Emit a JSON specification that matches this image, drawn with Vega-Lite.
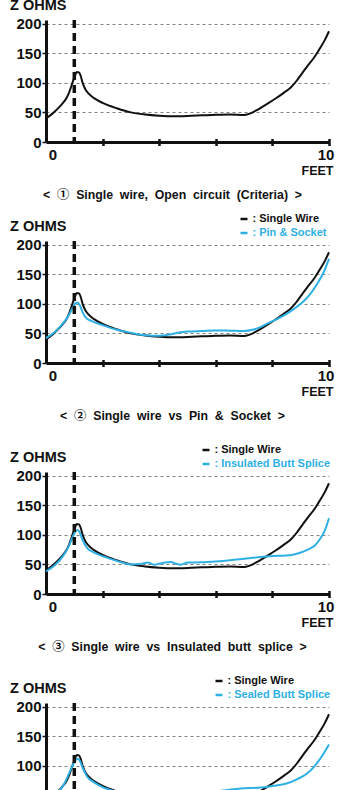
{
  "$schema": "https://vega.github.io/schema/vega-lite/v6.json",
  "padding": {"left": 9, "top": -3, "right": 5, "bottom": 0},
  "background": "white",
  "datasets": {
    "curves": [
      {"series": "Single Wire", "ft": 0.0, "z": 40},
      {"series": "Single Wire", "ft": 0.15, "z": 45},
      {"series": "Single Wire", "ft": 0.3, "z": 51},
      {"series": "Single Wire", "ft": 0.45, "z": 58},
      {"series": "Single Wire", "ft": 0.6, "z": 66},
      {"series": "Single Wire", "ft": 0.72, "z": 74},
      {"series": "Single Wire", "ft": 0.82, "z": 84},
      {"series": "Single Wire", "ft": 0.9, "z": 95},
      {"series": "Single Wire", "ft": 0.97, "z": 105},
      {"series": "Single Wire", "ft": 1.03, "z": 113},
      {"series": "Single Wire", "ft": 1.08, "z": 118},
      {"series": "Single Wire", "ft": 1.17, "z": 117.5},
      {"series": "Single Wire", "ft": 1.23, "z": 111},
      {"series": "Single Wire", "ft": 1.3, "z": 99},
      {"series": "Single Wire", "ft": 1.38, "z": 90},
      {"series": "Single Wire", "ft": 1.5, "z": 82},
      {"series": "Single Wire", "ft": 1.7, "z": 74},
      {"series": "Single Wire", "ft": 2.0, "z": 66},
      {"series": "Single Wire", "ft": 2.5, "z": 57},
      {"series": "Single Wire", "ft": 3.0, "z": 50},
      {"series": "Single Wire", "ft": 3.5, "z": 46.5},
      {"series": "Single Wire", "ft": 4.0, "z": 44.5},
      {"series": "Single Wire", "ft": 4.5, "z": 43.5},
      {"series": "Single Wire", "ft": 5.0, "z": 44},
      {"series": "Single Wire", "ft": 5.5, "z": 45},
      {"series": "Single Wire", "ft": 6.0, "z": 46},
      {"series": "Single Wire", "ft": 6.5, "z": 46.5},
      {"series": "Single Wire", "ft": 7.0, "z": 45.5},
      {"series": "Single Wire", "ft": 7.2, "z": 48},
      {"series": "Single Wire", "ft": 7.5, "z": 55},
      {"series": "Single Wire", "ft": 7.8, "z": 64},
      {"series": "Single Wire", "ft": 8.1, "z": 73},
      {"series": "Single Wire", "ft": 8.4, "z": 83},
      {"series": "Single Wire", "ft": 8.65, "z": 92},
      {"series": "Single Wire", "ft": 8.85, "z": 103},
      {"series": "Single Wire", "ft": 9.05, "z": 116},
      {"series": "Single Wire", "ft": 9.25, "z": 129},
      {"series": "Single Wire", "ft": 9.45, "z": 141},
      {"series": "Single Wire", "ft": 9.65, "z": 156},
      {"series": "Single Wire", "ft": 9.85, "z": 172},
      {"series": "Single Wire", "ft": 10.0, "z": 187},

      {"series": "Pin & Socket", "ft": 0.0, "z": 42},
      {"series": "Pin & Socket", "ft": 0.3, "z": 52},
      {"series": "Pin & Socket", "ft": 0.6, "z": 67},
      {"series": "Pin & Socket", "ft": 0.8, "z": 80},
      {"series": "Pin & Socket", "ft": 0.95, "z": 94},
      {"series": "Pin & Socket", "ft": 1.05, "z": 101},
      {"series": "Pin & Socket", "ft": 1.12, "z": 102},
      {"series": "Pin & Socket", "ft": 1.2, "z": 97},
      {"series": "Pin & Socket", "ft": 1.3, "z": 85},
      {"series": "Pin & Socket", "ft": 1.4, "z": 77},
      {"series": "Pin & Socket", "ft": 1.6, "z": 71},
      {"series": "Pin & Socket", "ft": 2.0, "z": 64},
      {"series": "Pin & Socket", "ft": 2.5, "z": 56},
      {"series": "Pin & Socket", "ft": 3.0, "z": 51},
      {"series": "Pin & Socket", "ft": 3.5, "z": 47},
      {"series": "Pin & Socket", "ft": 4.0, "z": 46},
      {"series": "Pin & Socket", "ft": 4.3, "z": 47.5},
      {"series": "Pin & Socket", "ft": 4.7, "z": 51.5},
      {"series": "Pin & Socket", "ft": 5.0, "z": 53},
      {"series": "Pin & Socket", "ft": 5.5, "z": 54},
      {"series": "Pin & Socket", "ft": 6.0, "z": 55},
      {"series": "Pin & Socket", "ft": 6.5, "z": 54.5},
      {"series": "Pin & Socket", "ft": 7.0, "z": 54},
      {"series": "Pin & Socket", "ft": 7.3, "z": 56},
      {"series": "Pin & Socket", "ft": 7.6, "z": 61},
      {"series": "Pin & Socket", "ft": 7.8, "z": 66},
      {"series": "Pin & Socket", "ft": 8.2, "z": 75},
      {"series": "Pin & Socket", "ft": 8.6, "z": 86},
      {"series": "Pin & Socket", "ft": 9.0, "z": 100},
      {"series": "Pin & Socket", "ft": 9.3, "z": 114},
      {"series": "Pin & Socket", "ft": 9.6, "z": 135},
      {"series": "Pin & Socket", "ft": 9.8, "z": 152},
      {"series": "Pin & Socket", "ft": 10.0, "z": 176},

      {"series": "Insulated Butt Splice", "ft": 0.0, "z": 38},
      {"series": "Insulated Butt Splice", "ft": 0.3, "z": 48},
      {"series": "Insulated Butt Splice", "ft": 0.6, "z": 64},
      {"series": "Insulated Butt Splice", "ft": 0.8, "z": 80},
      {"series": "Insulated Butt Splice", "ft": 0.95, "z": 97},
      {"series": "Insulated Butt Splice", "ft": 1.05, "z": 106},
      {"series": "Insulated Butt Splice", "ft": 1.12, "z": 108},
      {"series": "Insulated Butt Splice", "ft": 1.2, "z": 103},
      {"series": "Insulated Butt Splice", "ft": 1.3, "z": 90},
      {"series": "Insulated Butt Splice", "ft": 1.45, "z": 78},
      {"series": "Insulated Butt Splice", "ft": 1.7, "z": 70},
      {"series": "Insulated Butt Splice", "ft": 2.0, "z": 64},
      {"series": "Insulated Butt Splice", "ft": 2.5, "z": 56},
      {"series": "Insulated Butt Splice", "ft": 3.0, "z": 50},
      {"series": "Insulated Butt Splice", "ft": 3.3, "z": 50.5},
      {"series": "Insulated Butt Splice", "ft": 3.6, "z": 53},
      {"series": "Insulated Butt Splice", "ft": 3.82, "z": 49.5},
      {"series": "Insulated Butt Splice", "ft": 4.0, "z": 51},
      {"series": "Insulated Butt Splice", "ft": 4.2, "z": 53},
      {"series": "Insulated Butt Splice", "ft": 4.4, "z": 54},
      {"series": "Insulated Butt Splice", "ft": 4.6, "z": 51},
      {"series": "Insulated Butt Splice", "ft": 4.76, "z": 49.5},
      {"series": "Insulated Butt Splice", "ft": 5.0, "z": 53},
      {"series": "Insulated Butt Splice", "ft": 5.5, "z": 53.5},
      {"series": "Insulated Butt Splice", "ft": 6.0, "z": 55},
      {"series": "Insulated Butt Splice", "ft": 6.5, "z": 57},
      {"series": "Insulated Butt Splice", "ft": 7.0, "z": 59.5},
      {"series": "Insulated Butt Splice", "ft": 7.5, "z": 62},
      {"series": "Insulated Butt Splice", "ft": 8.0, "z": 64},
      {"series": "Insulated Butt Splice", "ft": 8.5, "z": 65},
      {"series": "Insulated Butt Splice", "ft": 8.8, "z": 67},
      {"series": "Insulated Butt Splice", "ft": 9.0, "z": 70},
      {"series": "Insulated Butt Splice", "ft": 9.25, "z": 75},
      {"series": "Insulated Butt Splice", "ft": 9.5, "z": 82},
      {"series": "Insulated Butt Splice", "ft": 9.7, "z": 94},
      {"series": "Insulated Butt Splice", "ft": 9.85, "z": 107},
      {"series": "Insulated Butt Splice", "ft": 10.0, "z": 128},

      {"series": "Sealed Butt Splice", "ft": 0.0, "z": 40},
      {"series": "Sealed Butt Splice", "ft": 0.3, "z": 50},
      {"series": "Sealed Butt Splice", "ft": 0.6, "z": 66},
      {"series": "Sealed Butt Splice", "ft": 0.9, "z": 96},
      {"series": "Sealed Butt Splice", "ft": 1.05, "z": 110},
      {"series": "Sealed Butt Splice", "ft": 1.12, "z": 112},
      {"series": "Sealed Butt Splice", "ft": 1.2, "z": 108},
      {"series": "Sealed Butt Splice", "ft": 1.3, "z": 96},
      {"series": "Sealed Butt Splice", "ft": 1.45, "z": 82},
      {"series": "Sealed Butt Splice", "ft": 1.7, "z": 72},
      {"series": "Sealed Butt Splice", "ft": 2.0, "z": 64},
      {"series": "Sealed Butt Splice", "ft": 2.5, "z": 56},
      {"series": "Sealed Butt Splice", "ft": 3.0, "z": 50},
      {"series": "Sealed Butt Splice", "ft": 4.0, "z": 49},
      {"series": "Sealed Butt Splice", "ft": 5.0, "z": 52},
      {"series": "Sealed Butt Splice", "ft": 6.0, "z": 57},
      {"series": "Sealed Butt Splice", "ft": 7.0, "z": 62},
      {"series": "Sealed Butt Splice", "ft": 7.5, "z": 63},
      {"series": "Sealed Butt Splice", "ft": 8.0, "z": 66},
      {"series": "Sealed Butt Splice", "ft": 8.5, "z": 70},
      {"series": "Sealed Butt Splice", "ft": 8.9, "z": 78},
      {"series": "Sealed Butt Splice", "ft": 9.2, "z": 86},
      {"series": "Sealed Butt Splice", "ft": 9.5, "z": 100},
      {"series": "Sealed Butt Splice", "ft": 9.8, "z": 120},
      {"series": "Sealed Butt Splice", "ft": 10.0, "z": 136}
    ]
  },
  "config": {
    "view": {"stroke": null},
    "font": "Liberation Sans, Noto Sans CJK KR",
    "axis": {
      "labelFont": "Liberation Sans, Noto Sans CJK KR",
      "labelFontWeight": "bold",
      "labelFontSize": 15,
      "labelColor": "#111111",
      "titleFont": "Liberation Sans, Noto Sans CJK KR",
      "titleFontWeight": "bold",
      "titleColor": "#111111"
    },
    "title": {
      "font": "Liberation Sans, Noto Sans CJK KR",
      "fontWeight": "bold",
      "fontSize": 12.3,
      "color": "#111111",
      "orient": "bottom",
      "anchor": "middle",
      "offset": 12,
      "dx": -15
    },
    "legend": {
      "orient": "none",
      "title": null,
      "padding": 0,
      "labelFont": "Liberation Sans, Noto Sans CJK KR",
      "labelFontWeight": "bold",
      "labelFontSize": 11,
      "labelOffset": 3,
      "rowPadding": 2
    }
  },
  "spacing": 12,
  "resolve": {"scale": {"x": "independent", "y": "independent", "color": "independent"}, "legend": {"color": "independent"}},
  "vconcat": [
    {
      "width": 283,
      "height": 122,
      "title": "<\u00a0\u00a0①\u00a0\u00a0Single\u00a0\u00a0wire,\u00a0\u00a0Open\u00a0\u00a0circuit\u00a0\u00a0(Criteria)\u00a0\u00a0>",
      "layer": [
        {
          "data": {"name": "curves"},
          "transform": [{"filter": {"field": "series", "oneOf": ["Single Wire"]}}],
          "mark": {"type": "line", "strokeWidth": 2, "interpolate": "monotone"},
          "encoding": {
            "x": {"field": "ft", "type": "quantitative", "scale": {"domain": [0, 10], "nice": false},
              "axis": {"values": [0,1,2,3,4,5,6,7,8,9,10], "domain": false, "offset": -3.5,
                "tickSize": 7, "tickWidth": 2.5,
                "tickColor": {"condition": {"test": "datum.value == 0", "value": "transparent"}, "value": "#111111"},
                "labelExpr": "datum.value % 5 == 0 ? datum.label : ''", "labelFlush": false, "labelPadding": 2,
                "labelOffset": {"condition": [{"test": "datum.value == 0", "value": 6.5}, {"test": "datum.value == 10", "value": -3.5}], "value": 0},
                "grid": true, "gridDash": [3, 3], "gridColor": "#808080", "gridWidth": 1,
                "gridOpacity": {"condition": {"test": "datum.value == 3 || datum.value == 5 || datum.value == 7", "value": 1}, "value": 0},
                "title": "FEET", "titleFontSize": 12.5, "titleAlign": "right", "titleBaseline": "middle", "titleX": 287, "titleY": 31.5}},
            "y": {"field": "z", "type": "quantitative", "scale": {"domain": [0, 206], "nice": false},
              "axis": {"values": [0, 50, 100, 150, 200], "domainColor": "#111111", "domainWidth": 3,
                "tickSize": 4, "tickWidth": 1.5, "tickColor": "#111111",
                "labelPadding": 1,
                "grid": true,
                "gridColor": {"condition": {"test": "datum.value == 0", "value": "#111111"}, "value": "#808080"},
                "gridWidth": {"condition": {"test": "datum.value == 0", "value": 3}, "value": 1},
                "gridDash": {"condition": {"test": "datum.value == 0", "value": []}, "value": [3, 3]},
                "title": "Z OHMS", "titleFontSize": 14.5, "titleAngle": 0, "titleAlign": "left", "titleBaseline": "middle", "titleX": -36.5, "titleY": -14.5}},
            "color": {"field": "series", "type": "nominal", "scale": {"domain": ["Single Wire"], "range": ["#111111"]}, "legend": null}
          }
        },
        {
          "data": {"values": [{"ft": 1}]},
          "mark": {"type": "rule", "strokeWidth": 3.5, "strokeDash": [8, 5], "color": "#111111"},
          "encoding": {"x": {"field": "ft", "type": "quantitative"}}
        }
      ]
    },
    {
      "spacing": 22,
      "resolve": {"scale": {"x": "independent", "y": "independent", "color": "independent"}, "legend": {"color": "independent"}},
      "vconcat": [
        {
          "width": 283,
          "height": 122,
          "title": "<\u00a0\u00a0②\u00a0\u00a0Single\u00a0\u00a0wire\u00a0\u00a0vs\u00a0\u00a0Pin\u00a0\u00a0&\u00a0\u00a0Socket\u00a0\u00a0>",
          "layer": [
            {
              "data": {"name": "curves"},
              "transform": [{"filter": {"field": "series", "oneOf": ["Single Wire", "Pin & Socket"]}}],
              "mark": {"type": "line", "strokeWidth": 2, "interpolate": "monotone"},
              "encoding": {
                "x": {"field": "ft", "type": "quantitative", "scale": {"domain": [0, 10], "nice": false},
                  "axis": {"values": [0,1,2,3,4,5,6,7,8,9,10], "domain": false, "offset": -3.5,
                    "tickSize": 7, "tickWidth": 2.5,
                    "tickColor": {"condition": {"test": "datum.value == 0", "value": "transparent"}, "value": "#111111"},
                    "labelExpr": "datum.value % 5 == 0 ? datum.label : ''", "labelFlush": false, "labelPadding": 2,
                    "labelOffset": {"condition": [{"test": "datum.value == 0", "value": 6.5}, {"test": "datum.value == 10", "value": -3.5}], "value": 0},
                    "grid": true, "gridDash": [3, 3], "gridColor": "#808080", "gridWidth": 1,
                    "gridOpacity": {"condition": {"test": "datum.value == 3 || datum.value == 5 || datum.value == 7", "value": 1}, "value": 0},
                    "title": "FEET", "titleFontSize": 12.5, "titleAlign": "right", "titleBaseline": "middle", "titleX": 287, "titleY": 31.5}},
                "y": {"field": "z", "type": "quantitative", "scale": {"domain": [0, 206], "nice": false},
                  "axis": {"values": [0, 50, 100, 150, 200], "domainColor": "#111111", "domainWidth": 3,
                    "tickSize": 4, "tickWidth": 1.5, "tickColor": "#111111",
                    "labelPadding": 1,
                    "grid": true,
                    "gridColor": {"condition": {"test": "datum.value == 0", "value": "#111111"}, "value": "#808080"},
                    "gridWidth": {"condition": {"test": "datum.value == 0", "value": 3}, "value": 1},
                    "gridDash": {"condition": {"test": "datum.value == 0", "value": []}, "value": [3, 3]},
                    "title": "Z OHMS", "titleFontSize": 14.5, "titleAngle": 0, "titleAlign": "left", "titleBaseline": "middle", "titleX": -36.5, "titleY": -14.5}},
                "color": {"field": "series", "type": "nominal", "scale": {"domain": ["Single Wire", "Pin & Socket"], "range": ["#111111", "#2fb0e4"]},
                  "legend": {"legendX": 192.5, "legendY": -27.5, "labelExpr": "': ' + datum.label",
                    "encode": {
                      "symbols": {"update": {"shape": {"value": "M-1,0H1"}, "size": {"value": 49}, "strokeWidth": {"value": 2.5}, "angle": {"value": 0}}},
                      "labels": {"update": {"fill": {"signal": "datum.value == 'Single Wire' ? '#111111' : '#2fb0e4'"}}}}}}
              }
            },
            {
              "data": {"values": [{"ft": 1}]},
              "mark": {"type": "rule", "strokeWidth": 3.5, "strokeDash": [8, 5], "color": "#111111"},
              "encoding": {"x": {"field": "ft", "type": "quantitative"}}
            }
          ]
        },
        {
          "width": 283,
          "height": 122,
          "title": "<\u00a0\u00a0③\u00a0\u00a0Single\u00a0\u00a0wire\u00a0\u00a0vs\u00a0\u00a0Insulated\u00a0\u00a0butt\u00a0\u00a0splice\u00a0\u00a0>",
          "layer": [
            {
              "data": {"name": "curves"},
              "transform": [{"filter": {"field": "series", "oneOf": ["Single Wire", "Insulated Butt Splice"]}}],
              "mark": {"type": "line", "strokeWidth": 2, "interpolate": "monotone"},
              "encoding": {
                "x": {"field": "ft", "type": "quantitative", "scale": {"domain": [0, 10], "nice": false},
                  "axis": {"values": [0,1,2,3,4,5,6,7,8,9,10], "domain": false, "offset": -3.5,
                    "tickSize": 7, "tickWidth": 2.5,
                    "tickColor": {"condition": {"test": "datum.value == 0", "value": "transparent"}, "value": "#111111"},
                    "labelExpr": "datum.value % 5 == 0 ? datum.label : ''", "labelFlush": false, "labelPadding": 2,
                    "labelOffset": {"condition": [{"test": "datum.value == 0", "value": 6.5}, {"test": "datum.value == 10", "value": -3.5}], "value": 0},
                    "grid": true, "gridDash": [3, 3], "gridColor": "#808080", "gridWidth": 1,
                    "gridOpacity": {"condition": {"test": "datum.value == 3 || datum.value == 5 || datum.value == 7", "value": 1}, "value": 0},
                    "title": "FEET", "titleFontSize": 12.5, "titleAlign": "right", "titleBaseline": "middle", "titleX": 287, "titleY": 31.5}},
                "y": {"field": "z", "type": "quantitative", "scale": {"domain": [0, 206], "nice": false},
                  "axis": {"values": [0, 50, 100, 150, 200], "domainColor": "#111111", "domainWidth": 3,
                    "tickSize": 4, "tickWidth": 1.5, "tickColor": "#111111",
                    "labelPadding": 1,
                    "grid": true,
                    "gridColor": {"condition": {"test": "datum.value == 0", "value": "#111111"}, "value": "#808080"},
                    "gridWidth": {"condition": {"test": "datum.value == 0", "value": 3}, "value": 1},
                    "gridDash": {"condition": {"test": "datum.value == 0", "value": []}, "value": [3, 3]},
                    "title": "Z OHMS", "titleFontSize": 14.5, "titleAngle": 0, "titleAlign": "left", "titleBaseline": "middle", "titleX": -36.5, "titleY": -14.5}},
                "color": {"field": "series", "type": "nominal", "scale": {"domain": ["Single Wire", "Insulated Butt Splice"], "range": ["#111111", "#2fb0e4"]},
                  "legend": {"legendX": 154.5, "legendY": -27.5, "labelExpr": "': ' + datum.label",
                    "encode": {
                      "symbols": {"update": {"shape": {"value": "M-1,0H1"}, "size": {"value": 49}, "strokeWidth": {"value": 2.5}, "angle": {"value": 0}}},
                      "labels": {"update": {"fill": {"signal": "datum.value == 'Single Wire' ? '#111111' : '#2fb0e4'"}}}}}}
              }
            },
            {
              "data": {"values": [{"ft": 1}]},
              "mark": {"type": "rule", "strokeWidth": 3.5, "strokeDash": [8, 5], "color": "#111111"},
              "encoding": {"x": {"field": "ft", "type": "quantitative"}}
            }
          ]
        },
        {
          "width": 283,
          "height": 122,
          "title": "<\u00a0\u00a0④\u00a0\u00a0Single\u00a0\u00a0wire\u00a0\u00a0vs\u00a0\u00a0Sealed\u00a0\u00a0butt\u00a0\u00a0splice\u00a0\u00a0>",
          "layer": [
            {
              "data": {"name": "curves"},
              "transform": [{"filter": {"field": "series", "oneOf": ["Single Wire", "Sealed Butt Splice"]}}],
              "mark": {"type": "line", "strokeWidth": 2, "interpolate": "monotone"},
              "encoding": {
                "x": {"field": "ft", "type": "quantitative", "scale": {"domain": [0, 10], "nice": false},
                  "axis": {"values": [0,1,2,3,4,5,6,7,8,9,10], "domain": false, "offset": -3.5,
                    "tickSize": 7, "tickWidth": 2.5,
                    "tickColor": {"condition": {"test": "datum.value == 0", "value": "transparent"}, "value": "#111111"},
                    "labelExpr": "datum.value % 5 == 0 ? datum.label : ''", "labelFlush": false, "labelPadding": 2,
                    "labelOffset": {"condition": [{"test": "datum.value == 0", "value": 6.5}, {"test": "datum.value == 10", "value": -3.5}], "value": 0},
                    "grid": true, "gridDash": [3, 3], "gridColor": "#808080", "gridWidth": 1,
                    "gridOpacity": {"condition": {"test": "datum.value == 3 || datum.value == 5 || datum.value == 7", "value": 1}, "value": 0},
                    "title": "FEET", "titleFontSize": 12.5, "titleAlign": "right", "titleBaseline": "middle", "titleX": 287, "titleY": 31.5}},
                "y": {"field": "z", "type": "quantitative", "scale": {"domain": [0, 206], "nice": false},
                  "axis": {"values": [0, 50, 100, 150, 200], "domainColor": "#111111", "domainWidth": 3,
                    "tickSize": 4, "tickWidth": 1.5, "tickColor": "#111111",
                    "labelPadding": 1,
                    "grid": true,
                    "gridColor": {"condition": {"test": "datum.value == 0", "value": "#111111"}, "value": "#808080"},
                    "gridWidth": {"condition": {"test": "datum.value == 0", "value": 3}, "value": 1},
                    "gridDash": {"condition": {"test": "datum.value == 0", "value": []}, "value": [3, 3]},
                    "title": "Z OHMS", "titleFontSize": 14.5, "titleAngle": 0, "titleAlign": "left", "titleBaseline": "middle", "titleX": -36.5, "titleY": -14.5}},
                "color": {"field": "series", "type": "nominal", "scale": {"domain": ["Single Wire", "Sealed Butt Splice"], "range": ["#111111", "#2fb0e4"]},
                  "legend": {"legendX": 167.5, "legendY": -27.5, "labelExpr": "': ' + datum.label",
                    "encode": {
                      "symbols": {"update": {"shape": {"value": "M-1,0H1"}, "size": {"value": 49}, "strokeWidth": {"value": 2.5}, "angle": {"value": 0}}},
                      "labels": {"update": {"fill": {"signal": "datum.value == 'Single Wire' ? '#111111' : '#2fb0e4'"}}}}}}
              }
            },
            {
              "data": {"values": [{"ft": 1}]},
              "mark": {"type": "rule", "strokeWidth": 3.5, "strokeDash": [8, 5], "color": "#111111"},
              "encoding": {"x": {"field": "ft", "type": "quantitative"}}
            }
          ]
        }
      ]
    }
  ]
}
